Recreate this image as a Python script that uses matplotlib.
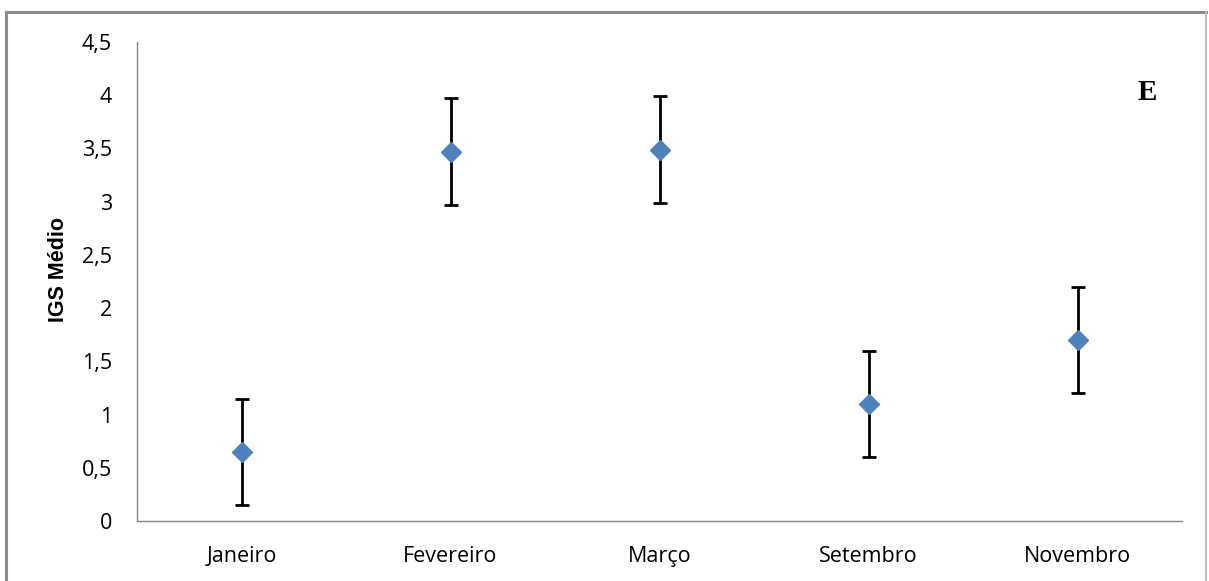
import matplotlib
matplotlib.use("Agg")
import matplotlib.pyplot as plt
from matplotlib.lines import Line2D

months = ["Janeiro", "Fevereiro", "Março", "Setembro", "Novembro"]
igs_mean = [0.65, 3.47, 3.49, 1.10, 1.70]
igs_err = [0.50, 0.50, 0.50, 0.50, 0.50]
yticks = [0, 0.5, 1, 1.5, 2, 2.5, 3, 3.5, 4, 4.5]
ytick_labels = ["0", "0,5", "1", "1,5", "2", "2,5", "3", "3,5", "4", "4,5"]

fig = plt.figure(figsize=(12.09, 5.81), dpi=100)
ax = fig.add_axes([137/1209, 1-521/581, (1182-137)/1209, (521-42)/581])

x = list(range(len(months)))
ax.errorbar(x, igs_mean, yerr=igs_err, fmt='D', color='#4F81BD', ms=10,
            ecolor='black', elinewidth=2, capsize=5, capthick=2, zorder=3)

ax.set_xlim(-0.5, len(months) - 0.5)
ax.set_ylim(0, 4.5)
ax.set_yticks(yticks)
ax.set_yticklabels(ytick_labels, fontfamily="Open Sans", fontsize=15.5)
ax.set_xticks(x)
ax.set_xticklabels(months, fontfamily="Open Sans", fontsize=15.5)
ax.tick_params(axis='y', length=0, pad=18)
ax.tick_params(axis='x', length=0, pad=18)
for s in ["top", "right"]:
    ax.spines[s].set_visible(False)
for s in ["left", "bottom"]:
    ax.spines[s].set_color('#868686')
    ax.spines[s].set_linewidth(1)
ax.set_ylabel("IGS Médio", fontfamily="Liberation Sans", fontweight="bold", fontsize=15.5,
              va="center")
ax.yaxis.set_label_coords((59-137)/1045, (521-270)/479)

fig.text(1147/1209, 1-93/581, "E", fontfamily="Liberation Serif", fontweight="bold",
         fontsize=21, ha="center", va="center")

# outer frame (left, top, right)
fx0, fx1 = 6/1209, 1206/1209
fy1 = 1 - 12/581
frame_kw = dict(color='#8c8c8c', lw=2.2, transform=fig.transFigure, clip_on=False)
fig.add_artist(Line2D([fx0, fx1], [fy1, fy1], **frame_kw))
fig.add_artist(Line2D([fx0, fx0], [fy1, -0.01], **frame_kw))
fig.add_artist(Line2D([fx1, fx1], [fy1, -0.01], color='#bdbdbd', lw=1.5, transform=fig.transFigure, clip_on=False))

fig.savefig("out.png", dpi=100)
